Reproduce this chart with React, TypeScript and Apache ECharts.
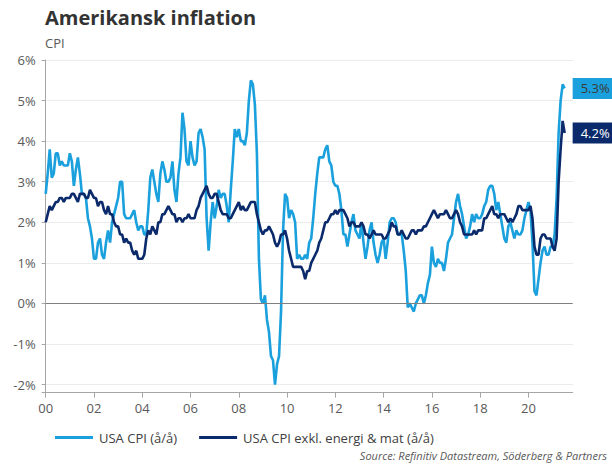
import React, { useEffect, useRef } from "react";
import * as echarts from "echarts";

const TITLE = "Amerikansk inflation";
const SUBTITLE = "CPI";
const SOURCE = "Source: Refinitiv Datastream, Söderberg & Partners";
const SERIES_NAMES = ["USA CPI (å/å)", "USA CPI exkl. energi & mat (å/å)"];

// Monthly categories Jan 2000 .. Nov 2021 (axis extent)
const START_YEAR = 2000;
const MONTH_COUNT = 263;
const categories: string[] = Array.from({ length: MONTH_COUNT }, (_, i) =>
  `${START_YEAR + Math.floor(i / 12)}-${String((i % 12) + 1).padStart(2, "0")}`
);

// Y-axis tick values (percent)
const yTicks = [-2, -1, 0, 1, 2, 3, 4, 5, 6];

// Headline CPI, y/y %, Jan 2000 .. Jul 2021
const cpi: number[] = [
  2.7, 3.2, 3.8, 3.1, 3.2, 3.7, 3.7, 3.4, 3.5, 3.4, 3.4, 3.4,
  3.7, 3.5, 2.9, 3.3, 3.6, 3.2, 2.7, 2.7, 2.6, 2.1, 1.9, 1.6,
  1.1, 1.1, 1.5, 1.6, 1.2, 1.1, 1.5, 1.8, 1.5, 2.0, 2.2, 2.4,
  2.6, 3.0, 3.0, 2.2, 2.1, 2.1, 2.1, 2.2, 2.3, 2.0, 1.8, 1.9,
  1.9, 1.7, 1.7, 2.3, 3.1, 3.3, 3.0, 2.7, 2.5, 3.2, 3.5, 3.3,
  3.0, 3.0, 3.1, 3.5, 2.8, 2.5, 3.2, 3.6, 4.7, 4.3, 3.5, 3.4,
  4.0, 3.6, 3.4, 3.5, 4.2, 4.3, 4.1, 3.8, 2.1, 1.3, 2.0, 2.5,
  2.1, 2.4, 2.8, 2.6, 2.7, 2.7, 2.4, 2.0, 2.8, 3.5, 4.3, 4.1,
  4.3, 4.0, 4.0, 3.9, 4.2, 5.0, 5.5, 5.4, 4.9, 3.7, 1.1, 0.1,
  0.0, 0.2, -0.4, -0.7, -1.3, -1.4, -2.0, -1.5, -1.3, -0.2, 1.8, 2.7,
  2.6, 2.1, 2.3, 2.2, 2.0, 1.1, 1.2, 1.1, 1.1, 1.2, 1.1, 1.5,
  1.6, 2.1, 2.7, 3.2, 3.6, 3.6, 3.6, 3.8, 3.9, 3.5, 3.4, 3.0,
  2.9, 2.9, 2.7, 2.3, 1.7, 1.7, 1.4, 1.7, 2.0, 2.2, 1.8, 1.7,
  1.6, 2.0, 1.5, 1.1, 1.4, 1.8, 2.0, 1.5, 1.2, 1.0, 1.2, 1.5,
  1.6, 1.1, 1.5, 2.0, 2.1, 2.1, 2.0, 1.7, 1.7, 1.7, 1.3, 0.8,
  -0.1, 0.0, -0.1, -0.2, 0.0, 0.1, 0.2, 0.2, 0.0, 0.2, 0.5, 0.7,
  1.4, 1.0, 0.9, 1.1, 1.0, 1.0, 0.8, 1.1, 1.5, 1.6, 1.7, 2.1,
  2.5, 2.7, 2.4, 2.2, 1.9, 1.6, 1.7, 1.9, 2.2, 2.0, 2.2, 2.1,
  2.1, 2.2, 2.4, 2.5, 2.8, 2.9, 2.9, 2.7, 2.3, 2.5, 2.2, 1.9,
  1.6, 1.5, 1.9, 2.0, 1.8, 1.6, 1.8, 1.7, 1.7, 1.8, 2.1, 2.3,
  2.5, 2.3, 1.5, 0.3, 0.2, 0.6, 1.0, 1.3, 1.4, 1.2, 1.2, 1.4,
  1.4, 1.7, 2.6, 4.2, 5.0, 5.4, 5.3,
];

// Core CPI (ex food & energy), y/y %, Jan 2000 .. Jul 2021
const core: number[] = [
  2.0, 2.2, 2.4, 2.3, 2.4, 2.5, 2.5, 2.6, 2.6, 2.5, 2.6, 2.6,
  2.6, 2.7, 2.7, 2.6, 2.5, 2.7, 2.7, 2.7, 2.6, 2.6, 2.8, 2.7,
  2.6, 2.6, 2.4, 2.5, 2.5, 2.3, 2.2, 2.4, 2.2, 2.2, 2.0, 1.9,
  1.9, 1.7, 1.7, 1.5, 1.6, 1.5, 1.5, 1.3, 1.2, 1.3, 1.1, 1.1,
  1.1, 1.2, 1.6, 1.8, 1.7, 1.9, 1.8, 1.7, 2.0, 2.0, 2.2, 2.2,
  2.3, 2.4, 2.3, 2.2, 2.2, 2.0, 2.1, 2.1, 2.0, 2.1, 2.1, 2.2,
  2.1, 2.1, 2.1, 2.3, 2.4, 2.6, 2.7, 2.8, 2.9, 2.7, 2.6, 2.6,
  2.7, 2.7, 2.5, 2.3, 2.2, 2.2, 2.2, 2.1, 2.1, 2.2, 2.3, 2.4,
  2.5, 2.3, 2.4, 2.3, 2.3, 2.4, 2.5, 2.5, 2.5, 2.2, 2.0, 1.8,
  1.7, 1.8, 1.8, 1.9, 1.8, 1.7, 1.5, 1.4, 1.5, 1.7, 1.7, 1.8,
  1.6, 1.3, 1.1, 0.9, 0.9, 0.9, 0.9, 0.9, 0.8, 0.6, 0.8, 0.8,
  1.0, 1.1, 1.2, 1.3, 1.5, 1.6, 1.8, 2.0, 2.0, 2.1, 2.2, 2.2,
  2.3, 2.2, 2.3, 2.3, 2.3, 2.2, 2.1, 1.9, 2.0, 2.0, 1.9, 1.9,
  1.9, 2.0, 1.9, 1.7, 1.7, 1.6, 1.7, 1.8, 1.7, 1.7, 1.7, 1.7,
  1.6, 1.6, 1.7, 1.8, 2.0, 1.9, 1.9, 1.7, 1.7, 1.8, 1.7, 1.6,
  1.6, 1.7, 1.8, 1.8, 1.7, 1.8, 1.8, 1.8, 1.9, 1.9, 2.0, 2.1,
  2.2, 2.3, 2.2, 2.1, 2.2, 2.2, 2.2, 2.3, 2.2, 2.1, 2.1, 2.2,
  2.3, 2.2, 2.0, 1.9, 1.7, 1.7, 1.7, 1.7, 1.7, 1.8, 1.7, 1.8,
  1.8, 1.8, 2.1, 2.1, 2.2, 2.3, 2.4, 2.2, 2.2, 2.1, 2.2, 2.2,
  2.2, 2.1, 2.0, 2.1, 2.0, 2.1, 2.2, 2.4, 2.4, 2.3, 2.3, 2.3,
  2.3, 2.4, 2.1, 1.4, 1.2, 1.2, 1.6, 1.7, 1.7, 1.6, 1.6, 1.6,
  1.4, 1.3, 1.6, 3.0, 3.8, 4.5, 4.2,
];

const LIGHT = "#1aa0dc";
const NAVY = "#0b2a6b";
const FONT = "'Open Sans', 'Noto Sans', sans-serif";

export default function App() {
  const ref = useRef<HTMLDivElement>(null);

  useEffect(() => {
    document.body.style.margin = "0";
    if (!ref.current) return;
    const chart = echarts.init(ref.current, null, { renderer: "svg" });
    const tickEvery = (idx: number) => idx % 24 === 0;
    chart.setOption({
      animation: false,
      textStyle: { fontFamily: FONT },
      title: {
        text: TITLE,
        left: 45,
        top: 7,
        padding: 0,
        textStyle: { fontSize: 20, fontWeight: "bold", color: "#333333", fontFamily: FONT },
      },
      graphic: [
        {
          type: "text",
          left: 45,
          top: 36,
          style: { text: SUBTITLE, fontSize: 13, fill: "#595959", fontFamily: FONT },
        },
        {
          type: "text",
          right: 5,
          top: 450,
          style: { text: SOURCE, fontSize: 11, fontStyle: "italic", fill: "#595959", fontFamily: FONT },
        },
      ],
      legend: {
        left: 50,
        top: 426,
        icon: "rect",
        itemWidth: 38,
        itemHeight: 3,
        itemGap: 22,
        textStyle: { fontSize: 13, color: "#404040", fontFamily: FONT, padding: [0, 0, 0, 1] },
        data: SERIES_NAMES,
      },
      grid: { left: 45.7, right: 39.3, top: 60, bottom: 72.3, containLabel: false },
      xAxis: {
        type: "category",
        data: categories,
        boundaryGap: false,
        axisLine: { onZero: false, lineStyle: { color: "#a6a6a6", width: 1 } },
        axisTick: { show: true, interval: tickEvery, length: 5, lineStyle: { color: "#a6a6a6" } },
        axisLabel: {
          interval: tickEvery,
          margin: 9,
          fontSize: 13,
          color: "#595959",
          fontFamily: FONT,
          formatter: (v: string) => v.slice(2, 4),
        },
        splitLine: { show: false },
      },
      yAxis: {
        type: "value",
        min: -2.2,
        max: yTicks[yTicks.length - 1],
        splitNumber: 8,
        axisLine: { show: true, lineStyle: { color: "#a6a6a6", width: 1 } },
        axisTick: { show: true, length: 4, lineStyle: { color: "#a6a6a6" } },
        axisLabel: {
          margin: 10,
          fontSize: 13,
          color: "#595959",
          fontFamily: FONT,
          formatter: (v: number) => {
            const r = Math.round(v * 10) / 10;
            return yTicks.includes(r) ? `${r}%` : "";
          },
        },
        splitLine: { show: true, lineStyle: { color: "#d9d9d9", type: "dotted", width: 1 } },
      },
      series: [
        {
          name: SERIES_NAMES[0],
          type: "line",
          data: cpi,
          symbol: "none",
          lineStyle: { color: LIGHT, width: 2.6 },
          itemStyle: { color: LIGHT },
          markLine: {
            silent: true,
            symbol: "none",
            label: { show: false },
            lineStyle: { color: "#7f7f7f", width: 1, type: "solid" },
            data: [{ yAxis: 0 }],
          },
          endLabel: {
            show: true,
            distance: 8,
            formatter: (p: any) => `${Number(p.value).toFixed(1)}%`,
            backgroundColor: LIGHT,
            color: "#3a3a3a",
            fontSize: 13,
            fontFamily: FONT,
            padding: [3, 14, 2, 8],
            lineHeight: 16,
          },
          z: 2,
        },
        {
          name: SERIES_NAMES[1],
          type: "line",
          data: core,
          symbol: "none",
          lineStyle: { color: NAVY, width: 2.6 },
          itemStyle: { color: NAVY },
          endLabel: {
            show: true,
            distance: 8,
            formatter: (p: any) => `${Number(p.value).toFixed(1)}%`,
            backgroundColor: NAVY,
            color: "#ffffff",
            fontSize: 13,
            fontFamily: FONT,
            padding: [3, 14, 2, 8],
            lineHeight: 16,
          },
          z: 3,
        },
      ],
    });
    return () => chart.dispose();
  }, []);

  return <div ref={ref} style={{ width: 612, height: 465 }} />;
}
